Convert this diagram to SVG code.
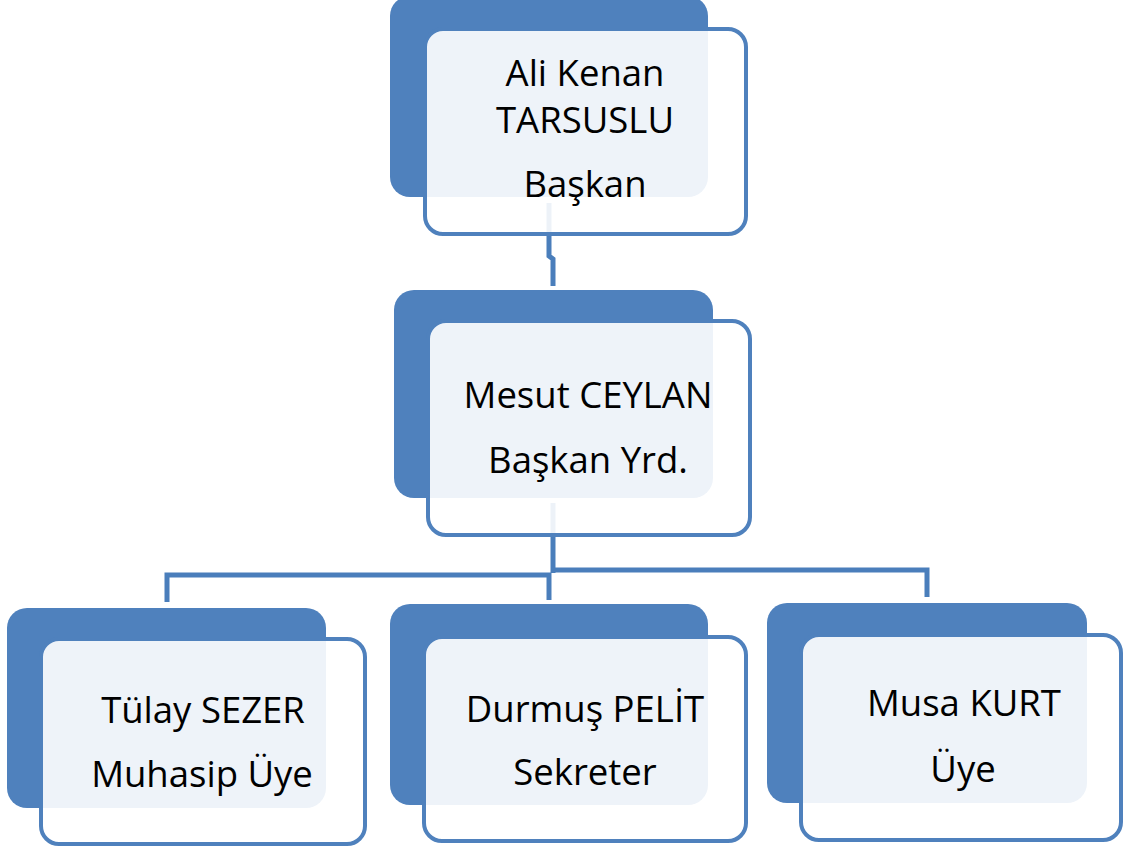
<svg xmlns="http://www.w3.org/2000/svg" width="1123" height="852" viewBox="0 0 1123 852">
<style>
.back{fill:#4F81BD;}
.front{fill:#FFFFFF;fill-opacity:0.9;stroke:#4F81BD;stroke-width:4;}
.conn{fill:none;stroke:#4A7EBB;stroke-width:5;}
text{font-family:"Open Sans","Liberation Sans",sans-serif;font-size:36.5px;fill:#000;text-anchor:middle;}
</style>
<rect width="1123" height="852" fill="#FFFFFF"/>
<g id="connectors">
<path class="conn" d="M549,203 V256 L553,259 V286"/>
<path class="conn" d="M553,503 V573"/>
<path class="conn" d="M549,573 V600"/>
<path class="conn" d="M551,575 H167 V602"/>
<path class="conn" d="M551,570 H927 V597"/>
</g>
<g id="node-ali">
<rect class="back" x="390" y="-4" width="318" height="201" rx="20"/>
<rect class="front" x="425" y="29" width="321" height="205" rx="18"/>
<text x="585" y="86">Ali Kenan</text>
<text x="585" y="133">TARSUSLU</text>
<text x="585" y="197">Başkan</text>
</g>
<g id="node-mesut">
<rect class="back" x="394" y="290" width="319" height="208" rx="20"/>
<rect class="front" x="428" y="321" width="322" height="214" rx="18"/>
<text x="588" y="408">Mesut CEYLAN</text>
<text x="588" y="473">Başkan Yrd.</text>
</g>
<g id="node-tulay">
<rect class="back" x="7" y="608" width="319" height="200" rx="20"/>
<rect class="front" x="41" y="639" width="324" height="205" rx="18"/>
<text x="203" y="723">Tülay SEZER</text>
<text x="202" y="787">Muhasip Üye</text>
</g>
<g id="node-durmus">
<rect class="back" x="390" y="604" width="318" height="201" rx="20"/>
<rect class="front" x="424" y="637" width="322" height="204" rx="18"/>
<text x="585" y="722">Durmuş PELİT</text>
<text x="585" y="785">Sekreter</text>
</g>
<g id="node-musa">
<rect class="back" x="767" y="603" width="320" height="200" rx="20"/>
<rect class="front" x="801" y="635" width="320" height="205" rx="18"/>
<text x="964" y="716">Musa KURT</text>
<text x="963" y="782">Üye</text>
</g>
</svg>
